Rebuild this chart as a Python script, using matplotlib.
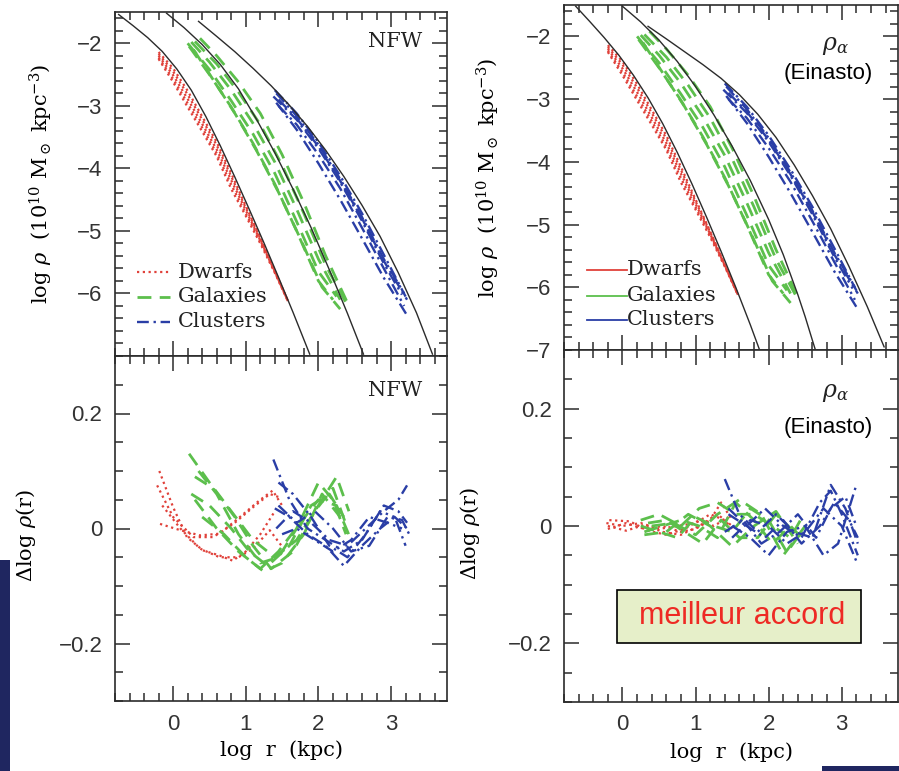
import matplotlib
matplotlib.use("Agg")
import matplotlib.pyplot as plt
from matplotlib.patches import Rectangle
from matplotlib.ticker import MultipleLocator, FixedLocator, FuncFormatter

# density profiles, log rho vs log r (kpc)
dwarf_x = [-0.2, 0.0, 0.2, 0.4, 0.6, 0.8, 1.0, 1.2, 1.4, 1.58]
dwarf_rho = [
    [-2.25, -2.62, -3.02, -3.41, -3.81, -4.33, -4.76, -5.20, -5.67, -6.12],
    [-2.23, -2.57, -2.96, -3.35, -3.76, -4.26, -4.72, -5.17, -5.66, -6.12],
    [-2.20, -2.51, -2.89, -3.29, -3.70, -4.19, -4.67, -5.15, -5.65, -6.12],
    [-2.17, -2.45, -2.82, -3.22, -3.63, -4.13, -4.63, -5.12, -5.64, -6.12],
    [-2.14, -2.40, -2.76, -3.17, -3.58, -4.08, -4.60, -5.11, -5.64, -6.12],
]
galaxy_x = [
    [0.37, 0.6, 0.9, 1.2, 1.5, 1.8, 2.1, 2.42],
    [0.30, 0.6, 0.9, 1.2, 1.5, 1.8, 2.1, 2.38],
    [0.25, 0.5, 0.8, 1.1, 1.4, 1.7, 2.0, 2.30],
    [0.20, 0.5, 0.8, 1.1, 1.4, 1.7, 2.0, 2.25],
    [0.22, 0.5, 0.8, 1.1, 1.4, 1.7, 2.0, 2.20],
    [0.28, 0.55, 0.85, 1.15, 1.45, 1.75, 2.05, 2.30],
]
galaxy_rho = [
    [-1.92, -2.20, -2.62, -3.12, -3.78, -4.55, -5.40, -6.20],
    [-1.97, -2.33, -2.78, -3.30, -3.95, -4.72, -5.55, -6.15],
    [-1.98, -2.30, -2.75, -3.28, -3.90, -4.65, -5.45, -6.10],
    [-2.00, -2.42, -2.92, -3.45, -4.08, -4.85, -5.65, -6.05],
    [-2.05, -2.50, -3.02, -3.60, -4.25, -5.00, -5.80, -6.10],
    [-2.10, -2.58, -3.12, -3.72, -4.38, -5.12, -5.90, -6.25],
]
cluster_x = [
    [1.40, 1.7, 2.0, 2.3, 2.6, 2.9, 3.20],
    [1.42, 1.7, 2.0, 2.3, 2.6, 2.9, 3.18],
    [1.38, 1.7, 2.0, 2.3, 2.6, 2.9, 3.15],
    [1.45, 1.7, 2.0, 2.3, 2.6, 2.9, 3.22],
    [1.42, 1.7, 2.0, 2.3, 2.6, 2.9, 3.22],
    [1.45, 1.7, 2.0, 2.3, 2.6, 2.9, 3.18],
]
cluster_rho = [
    [-2.75, -3.12, -3.58, -4.12, -4.72, -5.38, -6.05],
    [-2.80, -3.16, -3.62, -4.17, -4.78, -5.45, -6.00],
    [-2.85, -3.22, -3.68, -4.22, -4.84, -5.52, -6.02],
    [-2.90, -3.20, -3.65, -4.20, -4.80, -5.48, -6.10],
    [-2.95, -3.38, -3.92, -4.50, -5.12, -5.75, -6.35],
    [-3.00, -3.30, -3.78, -4.32, -4.95, -5.60, -6.20],
]

# NFW fits
nfw_fit_x = [
    [-0.75, -0.55, -0.35, -0.15, 0.05, 0.25, 0.45, 0.65, 0.85, 1.05, 1.25,
     1.45, 1.65, 1.88],
    [-0.09, 0.15, 0.40, 0.65, 0.90, 1.15, 1.40, 1.65, 1.90, 2.15, 2.40, 2.62],
    [0.35, 0.6, 0.85, 1.1, 1.35, 1.6, 1.85, 2.1, 2.35, 2.6, 2.85, 3.1, 3.35,
     3.57],
]
nfw_fit_rho = [
    [-1.54, -1.72, -1.91, -2.13, -2.41, -2.75, -3.17, -3.64, -4.14, -4.66,
     -5.19, -5.74, -6.30, -6.97],
    [-1.52, -1.75, -2.02, -2.34, -2.73, -3.22, -3.75, -4.33, -4.95, -5.62,
     -6.32, -6.97],
    [-1.65, -1.89, -2.135, -2.40, -2.68, -2.99, -3.33, -3.71, -4.13, -4.59,
     -5.09, -5.67, -6.31, -6.97],
]
# Einasto fits
ein_fit_x = [
    [-0.64, -0.45, -0.25, -0.05, 0.15, 0.35, 0.55, 0.75, 0.95, 1.15, 1.35,
     1.55, 1.75, 1.87],
    [0.0, 0.25, 0.5, 0.75, 1.0, 1.25, 1.5, 1.75, 2.0, 2.2, 2.4, 2.5, 2.6, 2.64],
    [0.35, 0.6, 0.85, 1.1, 1.35, 1.6, 1.85, 2.1, 2.35, 2.6, 2.85, 3.1, 3.35,
     3.58],
]
ein_fit_rho = [
    [-1.52, -1.76, -2.02, -2.30, -2.62, -2.98, -3.39, -3.85, -4.35, -4.88,
     -5.43, -6.00, -6.60, -6.98],
    [-1.52, -1.77, -2.06, -2.40, -2.80, -3.25, -3.75, -4.30, -4.92, -5.48,
     -6.12, -6.47, -6.85, -7.00],
    [-1.84, -2.04, -2.245, -2.45, -2.67, -2.93, -3.24, -3.61, -4.05, -4.54,
     -5.07, -5.67, -6.31, -6.95],
]

# residuals about the NFW fits
nfw_dwarf_dx = [
    [-0.19, 0.0, 0.19, 0.41, 0.64, 0.82, 1.0, 1.2, 1.4],
    [-0.22, 0.0, 0.28, 0.55, 0.83, 1.10, 1.33, 1.47],
    [-0.18, 0.10, 0.37, 0.64, 0.92, 1.19, 1.37, 1.50],
    [-0.15, 0.10, 0.37, 0.64, 0.90, 1.10, 1.33, 1.51],
]
nfw_dwarf_dy = [
    [0.10, 0.037, -0.015, -0.038, -0.047, -0.056, -0.04, -0.01, 0.03],
    [0.075, 0.02, -0.015, -0.015, 0.008, 0.037, 0.06, 0.054],
    [0.008, -0.003, -0.012, -0.009, 0.02, 0.049, 0.066, 0.04],
    [0.04, 0.0, -0.035, -0.05, -0.05, -0.035, -0.003, -0.033],
]
nfw_gal_dx = [
    [0.22, 0.5, 0.8, 1.1, 1.4, 1.7, 2.0, 2.25, 2.42],
    [0.30, 0.55, 0.85, 1.1, 1.35, 1.65, 1.95, 2.2, 2.4],
    [0.25, 0.5, 0.8, 1.05, 1.3, 1.6, 1.9, 2.15, 2.35],
    [0.35, 0.6, 0.9, 1.2, 1.45, 1.7, 2.0, 2.2, 2.38],
    [0.30, 0.6, 0.9, 1.2, 1.45, 1.75, 2.0, 2.25, 2.45],
    [0.40, 0.7, 1.0, 1.25, 1.5, 1.8, 2.05, 2.3],
]
nfw_gal_dy = [
    [0.13, 0.08, 0.03, -0.02, -0.05, -0.02, 0.04, 0.09, 0.03],
    [0.09, 0.07, 0.02, -0.03, -0.07, -0.04, 0.03, 0.07, 0.0],
    [0.06, 0.04, 0.0, -0.04, -0.065, -0.03, 0.04, 0.06, 0.02],
    [0.10, 0.06, -0.01, -0.06, -0.05, 0.0, 0.08, 0.05, -0.01],
    [0.05, 0.0, -0.04, -0.07, -0.04, 0.01, 0.05, 0.04, -0.02],
    [0.02, -0.01, -0.05, -0.075, -0.06, -0.01, 0.06, 0.02],
]
nfw_clu_dx = [
    [1.38, 1.6, 1.85, 2.1, 2.35, 2.6, 2.85, 3.05, 3.22],
    [1.45, 1.65, 1.9, 2.15, 2.4, 2.65, 2.9, 3.1, 3.22],
    [1.40, 1.6, 1.85, 2.1, 2.35, 2.6, 2.85, 3.05, 3.2],
    [1.42, 1.65, 1.9, 2.15, 2.4, 2.65, 2.9, 3.1, 3.22],
    [1.50, 1.7, 1.95, 2.2, 2.45, 2.7, 2.95, 3.15],
    [1.45, 1.7, 1.95, 2.2, 2.45, 2.7, 2.95, 3.15, 3.25],
]
nfw_clu_dy = [
    [0.12, 0.05, 0.0, -0.02, -0.04, -0.02, 0.03, 0.02, 0.0],
    [0.08, 0.06, 0.02, -0.03, -0.05, -0.01, 0.04, 0.03, 0.01],
    [0.035, 0.02, -0.01, -0.03, -0.065, -0.03, 0.0, 0.02, -0.03],
    [0.0, 0.03, 0.01, -0.02, -0.03, 0.0, 0.03, 0.05, 0.075],
    [-0.01, 0.0, -0.02, -0.04, -0.02, 0.02, 0.01, 0.0],
    [0.04, 0.01, 0.03, 0.0, -0.04, -0.03, 0.02, 0.015, -0.01],
]

# residuals about the Einasto fits
ein_dwarf_dx = [
    [-0.22, 0.0, 0.25, 0.5, 0.75, 1.0, 1.2, 1.4, 1.5],
    [-0.20, 0.05, 0.3, 0.55, 0.8, 1.0, 1.2, 1.35, 1.5],
    [-0.18, 0.1, 0.35, 0.6, 0.85, 1.05, 1.25, 1.45],
    [-0.20, 0.05, 0.3, 0.55, 0.8, 1.05, 1.3, 1.5],
]
ein_dwarf_dy = [
    [0.005, 0.0, 0.005, -0.005, 0.0, 0.005, 0.02, 0.01, -0.005],
    [-0.005, 0.005, -0.005, 0.0, -0.01, -0.005, 0.01, 0.04, 0.01],
    [0.01, 0.008, -0.008, -0.015, -0.005, 0.01, 0.0, 0.015],
    [0.0, -0.008, 0.002, -0.01, -0.015, 0.0, 0.02, 0.0],
]
ein_gal_dx = [
    [0.25, 0.5, 0.8, 1.05, 1.3, 1.55, 1.8, 2.05, 2.3, 2.48],
    [0.30, 0.55, 0.8, 1.05, 1.3, 1.55, 1.8, 2.05, 2.3, 2.45],
    [0.25, 0.5, 0.75, 1.0, 1.25, 1.5, 1.75, 2.0, 2.25, 2.45],
    [0.35, 0.6, 0.85, 1.1, 1.35, 1.6, 1.85, 2.1, 2.35],
    [0.30, 0.6, 0.9, 1.2, 1.5, 1.8, 2.1, 2.4],
    [0.40, 0.7, 1.0, 1.3, 1.6, 1.9, 2.2, 2.5],
]
ein_gal_dy = [
    [0.01, 0.02, 0.0, 0.03, 0.04, 0.02, 0.02, 0.0, -0.02, 0.02],
    [-0.01, 0.0, 0.01, 0.0, -0.02, 0.04, 0.01, -0.03, 0.0, -0.02],
    [0.0, -0.01, -0.02, 0.015, 0.0, -0.01, 0.03, 0.01, -0.045, -0.01],
    [0.005, 0.01, -0.01, -0.03, 0.01, -0.02, -0.02, 0.02, -0.01],
    [-0.015, -0.01, 0.02, 0.0, -0.035, 0.0, 0.025, -0.03],
    [0.0, 0.005, -0.015, 0.02, 0.045, 0.02, -0.05, 0.0],
]
ein_clu_dx = [
    [1.40, 1.6, 1.85, 2.1, 2.35, 2.6, 2.85, 3.05, 3.22],
    [1.45, 1.7, 1.95, 2.2, 2.45, 2.7, 2.85, 3.0, 3.22],
    [1.40, 1.65, 1.9, 2.15, 2.4, 2.65, 2.85, 3.05, 3.2],
    [1.50, 1.75, 2.0, 2.25, 2.5, 2.75, 2.95, 3.2],
    [1.45, 1.7, 1.95, 2.2, 2.45, 2.7, 2.9, 3.1, 3.22],
    [1.50, 1.75, 2.0, 2.25, 2.5, 2.75, 3.0, 3.2],
]
ein_clu_dy = [
    [0.08, 0.02, -0.01, 0.02, -0.01, -0.02, 0.07, 0.03, -0.03],
    [0.02, 0.0, 0.03, 0.0, -0.02, 0.04, 0.06, 0.02, -0.05],
    [-0.01, 0.01, -0.03, -0.01, 0.02, -0.02, 0.03, 0.05, 0.0],
    [0.0, -0.02, -0.05, -0.01, 0.0, -0.05, -0.03, 0.07],
    [0.03, 0.0, -0.02, 0.01, -0.03, 0.0, 0.04, 0.01, -0.02],
    [-0.02, 0.01, 0.0, -0.03, -0.01, 0.03, 0.0, -0.06],
]

RED = "#e0413a"
GREEN = "#5cbf4c"
BLUE = "#2a3ea6"
INK = "#2b2b2b"
serif = "DejaVu Serif"
sans = "Liberation Sans"
plt.rcParams["mathtext.fontset"] = "dejavuserif"

dwarf_style = dict(color=RED, lw=1.6, ls=(0, (1, 1.6)))
gal_style = dict(color=GREEN, lw=2.0, ls=(0, (5, 3)))
clu_style = dict(color=BLUE, lw=1.7, ls=(0, (5, 2, 1, 2)))

fig = plt.figure(figsize=(8.99, 7.71), dpi=100)
W, H = 899.0, 771.0


def add_axes(x0, x1, y0, y1):
    return fig.add_axes([x0 / W, 1 - y1 / H, (x1 - x0) / W, (y1 - y0) / H])


def style_axes(ax, ylo, yhi, yticks, yminor, show_x):
    ax.set_xlim(-0.8, 3.77)
    ax.set_ylim(ylo, yhi)
    ax.xaxis.set_major_locator(FixedLocator([0, 1, 2, 3]))
    ax.xaxis.set_minor_locator(MultipleLocator(0.2))
    ax.yaxis.set_major_locator(FixedLocator(yticks))
    ax.yaxis.set_minor_locator(MultipleLocator(yminor))
    ax.tick_params(which="both", direction="in", top=True, right=True,
                   color=INK, width=1.1)
    ax.tick_params(which="major", length=11, pad=9, labelsize=16)
    ax.tick_params(which="minor", length=5.5)
    if not show_x:
        ax.tick_params(axis="x", labelbottom=False)
    for lab in ax.get_xticklabels() + ax.get_yticklabels():
        lab.set_fontfamily(sans)
        lab.set_color("#333333")
    for sp in ax.spines.values():
        sp.set_linewidth(1.2)
        sp.set_color(INK)


def draw_profiles(ax, fit_x, fit_rho):
    for ys in dwarf_rho:
        ax.plot(dwarf_x, ys, **dwarf_style)
    for xs, ys in zip(galaxy_x, galaxy_rho):
        ax.plot(xs, ys, **gal_style)
    for xs, ys in zip(cluster_x, cluster_rho):
        ax.plot(xs, ys, **clu_style)
    for xs, ys in zip(fit_x, fit_rho):
        ax.plot(xs, ys, color=INK, lw=1.0)


def draw_residuals(ax, groups):
    for xs_list, ys_list, st in groups:
        for xs, ys in zip(xs_list, ys_list):
            ax.plot(xs, ys, **st)


rho_label = r"log $\rho$  (10$^{10}$ M$_\odot$ kpc$^{-3}$)"
res_label = r"$\Delta$log $\rho$(r)"
fmt_res = FuncFormatter(lambda v, p: "0" if abs(v) < 1e-9 else f"{v:.1f}".replace("-", "\u2212"))

# ---- left column: NFW
ax1 = add_axes(115, 447, 12, 356)
draw_profiles(ax1, nfw_fit_x, nfw_fit_rho)
style_axes(ax1, -7, -1.5, [-6, -5, -4, -3, -2], 0.2, False)
ax1.set_ylabel(rho_label, fontfamily=serif, fontsize=15)
ax1.yaxis.set_label_coords(-0.18, 0.5)
ax1.text(0.925, 0.913, "NFW", transform=ax1.transAxes, ha="right", va="center",
         fontfamily=serif, fontsize=15, color="#222222")
leg_rows = [("Dwarfs", dwarf_style), ("Galaxies", gal_style), ("Clusters", clu_style)]
for (name, st), yy in zip(leg_rows, [0.244, 0.172, 0.099]):
    ax1.plot([0.066, 0.166], [yy, yy], transform=ax1.transAxes, **st)
    ax1.text(0.19, yy, name, transform=ax1.transAxes, va="center",
             fontfamily=serif, fontsize=15, color="#222222")

ax2 = add_axes(115, 447, 356, 701)
draw_residuals(ax2, [(nfw_dwarf_dx, nfw_dwarf_dy, dwarf_style),
                     (nfw_gal_dx, nfw_gal_dy, gal_style),
                     (nfw_clu_dx, nfw_clu_dy, clu_style)])
style_axes(ax2, -0.3, 0.3, [-0.2, 0, 0.2], 0.05, True)
ax2.yaxis.set_major_formatter(fmt_res)
ax2.set_ylabel(res_label, fontfamily=serif, fontsize=15)
ax2.yaxis.set_label_coords(-0.232, 0.48)
ax2.set_xlabel("log  r  (kpc)", fontfamily=serif, fontsize=15)
ax2.xaxis.set_label_coords(0.5, -0.115)
ax2.text(0.925, 0.901, "NFW", transform=ax2.transAxes, ha="right", va="center",
         fontfamily=serif, fontsize=15, color="#222222")

# ---- right column: Einasto
ax3 = add_axes(564, 898, 5, 350)
draw_profiles(ax3, ein_fit_x, ein_fit_rho)
style_axes(ax3, -7, -1.5, [-7, -6, -5, -4, -3, -2], 0.2, False)
ax3.set_ylabel(rho_label, fontfamily=serif, fontsize=15)
ax3.yaxis.set_label_coords(-0.186, 0.5)
ax3.text(0.814, 0.884, r"$\rho_\alpha$", transform=ax3.transAxes, ha="center",
         va="center", fontsize=17, color="#222222")
ax3.text(0.79, 0.80, "(Einasto)", transform=ax3.transAxes, ha="center",
         va="center", fontfamily=sans, fontsize=16, color="black")
for (name, st), yy in zip(leg_rows, [0.232, 0.157, 0.087]):
    ax3.plot([0.069, 0.189], [yy, yy], transform=ax3.transAxes,
             color=st["color"], lw=1.3)
    ax3.text(0.189, yy, name, transform=ax3.transAxes, va="center",
             fontfamily=serif, fontsize=15, color="#222222")

ax4 = add_axes(564, 898, 350, 702)
draw_residuals(ax4, [(ein_dwarf_dx, ein_dwarf_dy, dwarf_style),
                     (ein_gal_dx, ein_gal_dy, gal_style),
                     (ein_clu_dx, ein_clu_dy, clu_style)])
style_axes(ax4, -0.3, 0.3, [-0.2, 0, 0.2], 0.05, True)
ax4.yaxis.set_major_formatter(fmt_res)
ax4.set_ylabel(res_label, fontfamily=serif, fontsize=15)
ax4.yaxis.set_label_coords(-0.245, 0.48)
ax4.set_xlabel("log  r  (kpc)", fontfamily=serif, fontsize=15)
ax4.xaxis.set_label_coords(0.5, -0.115)
ax4.text(0.814, 0.881, r"$\rho_\alpha$", transform=ax4.transAxes, ha="center",
         va="center", fontsize=17, color="#222222")
ax4.text(0.79, 0.781, "(Einasto)", transform=ax4.transAxes, ha="center",
         va="center", fontfamily=sans, fontsize=16, color="black")
ax4.add_patch(Rectangle((0.159, 0.168), 0.73, 0.15, transform=ax4.transAxes,
                        facecolor="#e6efc9", edgecolor="black", lw=1.2, zorder=5))
ax4.text(0.533, 0.243, "meilleur accord", transform=ax4.transAxes, ha="center",
         va="center", fontfamily=sans, fontsize=22, color="#ee2a24", zorder=6)

# slide decoration bars
fig.patches.append(Rectangle((0, 0), 10 / W, 211 / H, transform=fig.transFigure,
                             facecolor="#1f2660", edgecolor="none"))
fig.patches.append(Rectangle((822 / W, 0), 77 / W, 5 / H, transform=fig.transFigure,
                             facecolor="#1f2660", edgecolor="none"))

fig.savefig("out.png", dpi=100)
